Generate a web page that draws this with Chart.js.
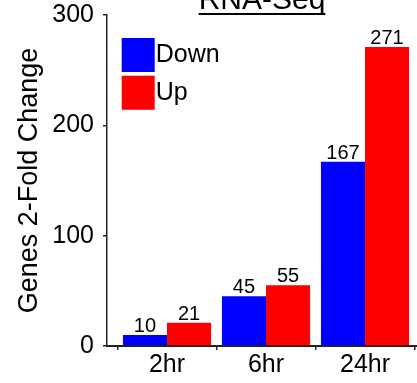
<!DOCTYPE html>
<html>
<head>
<meta charset="utf-8">
<script src="https://cdn.jsdelivr.net/npm/chart.js@4/dist/chart.umd.min.js"></script>
<style>
  html, body { margin: 0; padding: 0; background: #fff; }
  #wrap { width: 417px; height: 383px; position: relative; overflow: hidden; }
</style>
</head>
<body>
<div id="wrap"><canvas id="c" width="417" height="383"></canvas></div>
<script>
// ---- data ----
const titleText = 'RNA-Seq';
const yAxisTitle = 'Genes 2-Fold Change';
const categories = ['2hr', '6hr', '24hr'];
const seriesNames = ['Down', 'Up'];
const downValues = [10, 45, 167];
const upValues = [21, 55, 271];
const yTickValues = [0, 100, 200, 300];

const FONT = '"Liberation Sans", Arial, Helvetica, sans-serif';
Chart.defaults.font.family = FONT;
Chart.defaults.color = '#000';

const AXIS_COLOR = '#222';

const toPoints = (vals) => vals.map((v, i) => ({ x: i + 1, y: v }));

// value labels above bars
const valueLabels = {
  id: 'valueLabels',
  afterDatasetsDraw(chart) {
    const ctx = chart.ctx;
    ctx.save();
    ctx.font = '20px ' + FONT;
    ctx.fillStyle = '#000';
    ctx.textAlign = 'center';
    ctx.textBaseline = 'alphabetic';
    chart.data.datasets.forEach((ds, di) => {
      chart.getDatasetMeta(di).data.forEach((bar, i) => {
        ctx.fillText(String(ds.data[i].y), bar.x, bar.y - 3);
      });
    });
    ctx.restore();
  }
};

// underline for the title
const titleUnderline = {
  id: 'titleUnderline',
  afterDraw(chart) {
    const tb = chart.titleBlock;
    if (!tb) return;
    const opts = tb.options;
    const ctx = chart.ctx;
    ctx.save();
    ctx.font = opts.font.size + 'px ' + FONT;
    const w = ctx.measureText(titleText).width;
    const cx = (tb.left + tb.right) / 2;
    const lh = opts.font.size * 1.2;
    const mid = tb.top + tb._padding.top + lh / 2;
    const y = mid + 13;
    ctx.strokeStyle = '#000';
    ctx.lineWidth = 2;
    ctx.beginPath();
    ctx.moveTo(cx - w / 2, y);
    ctx.lineTo(cx + w / 2, y);
    ctx.stroke();
    ctx.restore();
  }
};

// place legend inside plot area
const legendOffset = {
  id: 'legendOffset',
  afterLayout(chart) {
    if (chart.legend) {
      chart.legend.left = chart.chartArea.left + 13.5;
      chart.legend.top = chart.chartArea.top + 14.8;
    }
  }
};

new Chart(document.getElementById('c'), {
  type: 'bar',
  data: {
    datasets: [
      { label: seriesNames[0], data: toPoints(downValues), backgroundColor: '#0000ff', borderWidth: 0 },
      { label: seriesNames[1], data: toPoints(upValues), backgroundColor: '#ff0000', borderWidth: 0 }
    ]
  },
  options: {
    responsive: false,
    animation: false,
    devicePixelRatio: 1,
    layout: { padding: 0 },
    datasets: { bar: { categoryPercentage: 0.89, barPercentage: 1.0 } },
    plugins: {
      tooltip: { enabled: false },
      title: {
        display: true,
        text: titleText,
        fullSize: false,
        font: { size: 30, weight: 'normal' },
        color: '#000',
        padding: { top: -17, bottom: -4 }
      },
      legend: {
        position: 'chartArea',
        align: 'start',
        labels: {
          font: { size: 25 },
          color: '#000',
          boxWidth: 10,
          boxHeight: 11,
          padding: 12.7,
          generateLabels: (chart) =>
            Chart.defaults.plugins.legend.labels.generateLabels(chart).map(l => ({
              ...l, lineWidth: 23, strokeStyle: l.fillStyle, lineJoin: 'miter'
            }))
        }
      }
    },
    scales: {
      x: {
        type: 'linear',
        min: 0.394,
        max: 3.525,
        offset: false,
        afterBuildTicks: (s) => { s.ticks = categories.map((c, i) => ({ value: i + 1 })); },
        afterFit: (s) => { s.height = 37; s.paddingLeft = 0; s.paddingRight = 0; },
        ticks: {
          autoSkip: false,
          maxRotation: 0,
          padding: 0,
          font: { size: 25 },
          color: '#000',
          callback: (v) => categories[v - 1]
        },
        grid: { display: true, drawOnChartArea: false, drawTicks: true, tickLength: 4, color: AXIS_COLOR, lineWidth: 1.5 },
        border: { display: true, color: AXIS_COLOR, width: 2 }
      },
      y: {
        min: 0,
        max: 300,
        afterBuildTicks: (s) => { s.ticks = yTickValues.map(v => ({ value: v })); },
        afterFit: (s) => { s.width = 107; s.paddingTop = 0; s.paddingBottom = 0; },
        ticks: { padding: 9, font: { size: 25 }, color: '#000' },
        title: { display: true, text: yAxisTitle, font: { size: 27 }, color: '#000', padding: { top: 13, bottom: 0 } },
        grid: { display: true, drawOnChartArea: false, drawTicks: true, tickLength: 4, color: AXIS_COLOR, lineWidth: 1.5 },
        border: { display: true, color: AXIS_COLOR, width: 1.5 }
      }
    }
  },
  plugins: [valueLabels, titleUnderline, legendOffset]
});
</script>
</body>
</html>
